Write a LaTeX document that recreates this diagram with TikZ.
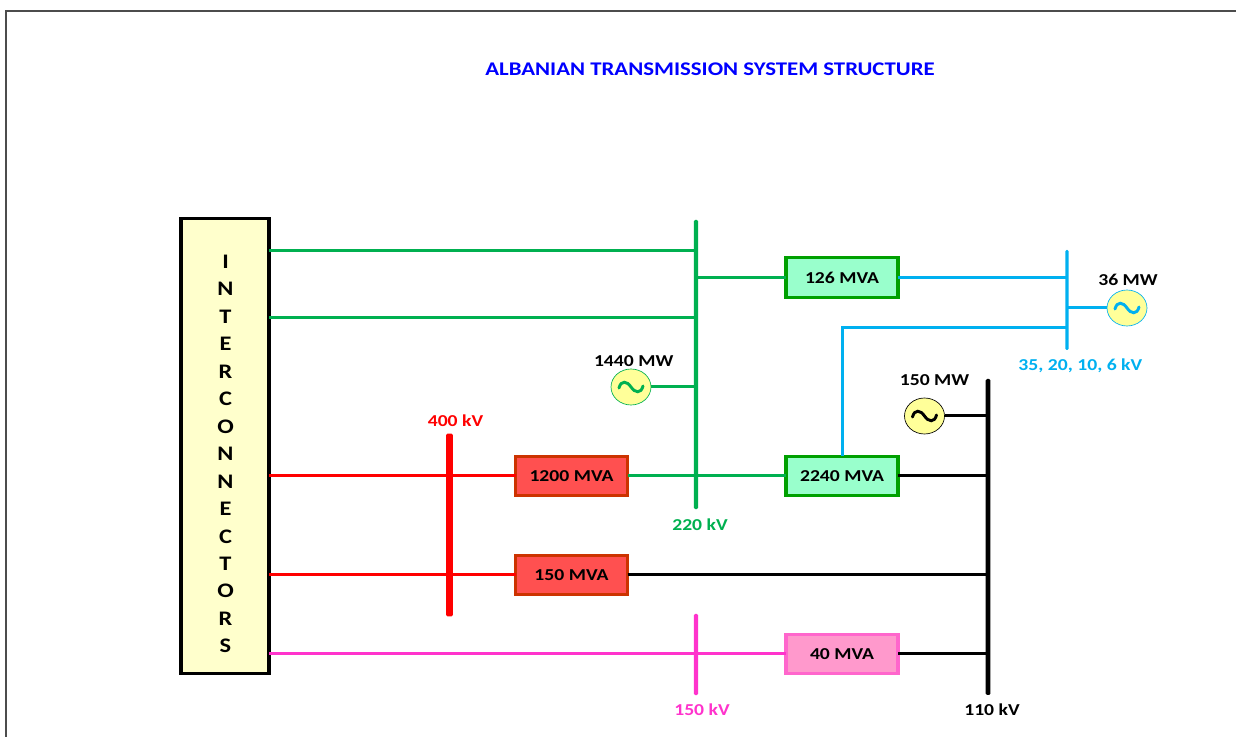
\documentclass[tikz,border=0pt]{standalone}
\usepackage{fontspec}
\setmainfont[FakeStretch=1.18]{Carlito}
\usetikzlibrary{positioning}
\usetikzlibrary{shapes.geometric}

\definecolor{hvgreen}{HTML}{00B050}
\definecolor{hvcyan}{HTML}{00B0F0}
\definecolor{hvpink}{HTML}{FF33CC}
\definecolor{hvred}{HTML}{FF0000}

\tikzset{
    every node/.style={font=\bfseries\fontsize{12.5}{15}\selectfont, outer sep=0pt, inner sep=0pt},
    mva/.style={draw, line width=2.4pt, minimum width=84pt, minimum height=29.5pt},
    mvagreen/.style={mva, draw={rgb,255:red,0;green,160;blue,0}, fill={rgb,255:red,153;green,255;blue,204}},
    mvared/.style={mva, draw={rgb,255:red,204;green,51;blue,0}, fill={rgb,255:red,255;green,80;blue,80}},
    mvapink/.style={mva, draw={rgb,255:red,255;green,102;blue,204}, fill={rgb,255:red,255;green,153;blue,204}},
    bus/.style={fill, rounded corners=1pt, minimum width=#1},
    gen/.style={ellipse, draw, line width=0.5pt, fill={rgb,255:red,255;green,255;blue,153}, minimum width=30pt, minimum height=27pt},
    feeder/.style={line width=2.25pt},
    sinewave/.style={line width=2.2pt, line cap=round}
}

\begin{document}
\begin{tikzpicture}[x=0.75pt, y=-0.75pt]

    \useasboundingbox (0,0) rectangle (1236,737);

    % Frame

    \draw[black!70, line width=0.8pt] (6,737) |- (1236,11);

    % Nodes

    \node[text=blue, font=\bfseries\fontsize{14.5}{17}\selectfont] (title) at (710,69) {ALBANIAN TRANSMISSION SYSTEM STRUCTURE};

    \node[draw, line width=2.7pt, fill={rgb,255:red,255;green,255;blue,204}, minimum width=66pt, minimum height=341pt] (ic) at (225,446) {};
    \node[align=center, font=\bfseries\fontsize{15.5}{20.6}\selectfont] (icname) at (225.5,454)
        {I\\N\\T\\E\\R\\C\\O\\N\\N\\E\\C\\T\\O\\R\\S};

    \node[mvared] (mva1200) at (571.5,476) {1200 MVA};
    \node[mvared, below=44.75pt of mva1200] (mva150) {150 MVA};
    \node[mvagreen, right=118.9pt of mva1200] (mva2240) {2240 MVA};
    \node[mvagreen, above=119.4pt of mva2240] (mva126) {126 MVA};
    \node[mvapink, below=104pt of mva2240] (mva40) {40 MVA};

    \node[bus=3.2pt, hvgreen, minimum height=217pt, label={[text=hvgreen, xshift=3pt, yshift=-7pt]below:220 kV}] (bus220) at (696,364.5) {};
    \node[bus=5pt, hvred, minimum height=137pt, label={[text=hvred, xshift=4.5pt, yshift=5.5pt]above:400 kV}] (bus400) at (449.5,525) {};
    \node[bus=3.2pt, hvpink, minimum height=61pt, label={[text=hvpink, xshift=4.5pt, yshift=-6.5pt]below:150 kV}] (bus150) at (696,654.5) {};
    \node[bus=3.5pt, black, minimum height=237pt, label={[xshift=3pt, yshift=-6.5pt]below:110 kV}] (bus110) at (988,537) {};
    \node[bus=2.4pt, hvcyan, minimum height=75pt, label={[text=hvcyan, xshift=10pt, yshift=-6.5pt]below:{35, 20, 10, 6 kV}}] (buslv) at (1067,300) {};

    \node[gen, draw=hvgreen, label={[xshift=2pt, yshift=2pt]above:1440 MW}] (gen1440) at (631,387) {};
    \node[gen, draw=black, label={[xshift=7.5pt, yshift=9.5pt]above:150 MW}] (gen150) at (924.5,416) {};
    \node[gen, draw=hvcyan, label={[xshift=0.75pt, yshift=3.5pt]above:36 MW}] (gen36) at (1127,308) {};

    \coordinate (tie1) at (696,250.5);
    \coordinate (tie2) at (696,317.5);
    \coordinate (tielv) at (1067,327.5);

    % Edges

    \draw[feeder, hvgreen] (ic.east |- tie1) -- (tie1);
    \draw[feeder, hvgreen] (ic.east |- tie2) -- (tie2);
    \draw[feeder, hvgreen] (bus220.center |- mva126) -- (mva126);
    \draw[feeder, hvgreen] (gen1440) -- (bus220.center |- gen1440);
    \draw[feeder, hvgreen] (mva1200) -- (mva2240);

    \draw[feeder, hvred] (ic.east |- mva1200) -- (mva1200);
    \draw[feeder, hvred] (ic.east |- mva150) -- (mva150);
    \draw[feeder, hvpink] (ic.east |- mva40) -- (mva40);

    \draw[feeder, black] (mva150) -- (bus110.center |- mva150);
    \draw[feeder, black] (mva2240) -- (bus110.center |- mva2240);
    \draw[feeder, black] (mva40) -- (bus110.center |- mva40);
    \draw[feeder, black] (gen150) -- (bus110.center |- gen150);

    \draw[feeder, hvcyan] (mva126) -- (buslv.center |- mva126);
    \draw[feeder, hvcyan] (mva2240.north) |- (tielv);
    \draw[feeder, hvcyan] (gen36) -- (buslv.center |- gen36);

    % Generators

    \foreach \name/\col in {gen1440/hvgreen, gen150/black, gen36/hvcyan} {
        \draw[sinewave, \col, shift={(\name.center)}] (-12,1) .. controls (-10,-7) and (-4,-6) .. (0,0) .. controls (4,6) and (10,7) .. (12,-1);
    }

\end{tikzpicture}
\end{document}
